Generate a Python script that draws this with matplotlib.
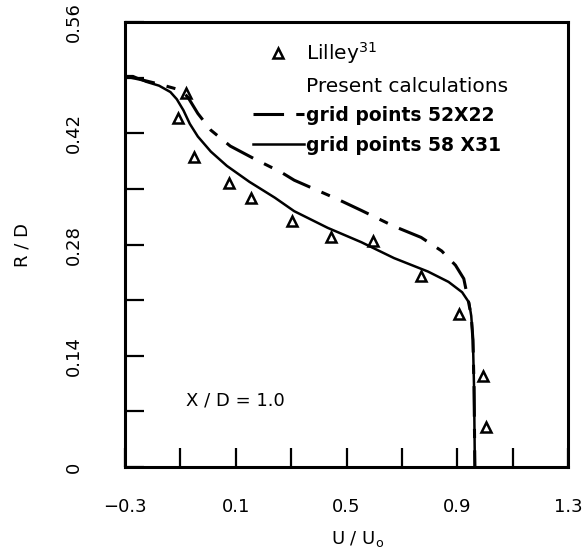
import numpy as np
import matplotlib.pyplot as plt
from matplotlib.lines import Line2D

# Lilley (ref. 31) measurements
u_lilley = [-0.079, -0.107, -0.051, 0.075, 0.155, 0.304, 0.445, 0.596, 0.770, 0.904, 0.993, 1.004]
r_lilley = [0.471, 0.439, 0.390, 0.357, 0.338, 0.310, 0.289, 0.284, 0.241, 0.192, 0.115, 0.050]

# present calculations, grid 52x22
u_coarse = [-0.300, -0.247, -0.177, -0.095, -0.072, -0.037, 0.010, 0.080, 0.172, 0.264, 0.311,
            0.468, 0.553, 0.671, 0.769, 0.843, 0.893, 0.923, 0.936, 0.950, 0.956, 0.960, 0.963]
r_coarse = [0.492, 0.488, 0.482, 0.474, 0.465, 0.445, 0.424, 0.404, 0.387, 0.371, 0.361,
            0.337, 0.323, 0.303, 0.289, 0.272, 0.254, 0.237, 0.215, 0.190, 0.160, 0.100, 0.0]

# present calculations, grid 58x31
u_fine = [-0.300, -0.271, -0.224, -0.177, -0.136, -0.113, -0.089, -0.066, -0.037, 0.010, 0.068,
          0.149, 0.241, 0.311, 0.432, 0.553, 0.671, 0.794, 0.868, 0.917, 0.942, 0.950, 0.956,
          0.960, 0.963]
r_fine = [0.492, 0.492, 0.485, 0.480, 0.472, 0.463, 0.449, 0.432, 0.416, 0.397, 0.379,
          0.359, 0.339, 0.322, 0.301, 0.283, 0.263, 0.246, 0.233, 0.220, 0.207, 0.190, 0.160,
          0.100, 0.0]

xticks = np.round(np.arange(-0.3, 1.31, 0.2), 2)
yticks = np.round(np.arange(0, 0.561, 0.07), 2)

plt.rcParams['font.family'] = 'DejaVu Sans'
fig = plt.figure(figsize=(5.84, 5.53), dpi=100)
ax = fig.add_axes([0.214, 0.1555, 0.759, 0.8045])

dashdot = (0, (10, 4, 3, 4))
ax.plot(u_coarse, r_coarse, color='k', lw=2.2, ls=dashdot)
ax.plot(u_fine, r_fine, color='k', lw=1.8)
ax.plot(u_lilley, r_lilley, ls='none', marker='^', ms=7, mfc='none', mec='k', mew=1.8)

ax.set_xlim(-0.3, 1.3)
ax.set_ylim(0, 0.56)
ax.set_xticks(xticks)
ax.set_yticks(yticks)
ax.set_xticklabels([f'{v:.1f}'.replace('-', '\u2212') if i % 2 == 0 else '' for i, v in enumerate(xticks)])
ax.set_yticklabels(['0' if v == 0 else (f'{v:.2f}' if i % 2 == 0 else '') for i, v in enumerate(yticks)])
ax.tick_params(direction='in', length=14, width=1.6, labelsize=13)
ax.tick_params(axis='x', pad=22)
ax.tick_params(axis='y', pad=30, labelrotation=90)
for lab in ax.get_yticklabels():
    lab.set_va('center')
for s in ax.spines.values():
    s.set_linewidth(2.2)

ax.set_xlabel('U / U$_\\mathregular{o}$', fontsize=13, labelpad=8)
ax.xaxis.set_label_coords(0.524, -0.14)
ax.set_ylabel('R / D', fontsize=13, labelpad=24)

ax.text(-0.079, 0.084, 'X / D = 1.0', fontsize=13, ha='left', va='center')

handles = [Line2D([], [], ls='none', marker='^', ms=7, mfc='none', mec='k', mew=1.8),
           Line2D([], [], ls='none'),
           Line2D([], [], color='k', lw=2.2, ls=dashdot),
           Line2D([], [], color='k', lw=1.8)]
labels = ['Lilley$^{31}$', 'Present calculations', 'grid points 52X22', 'grid points 58 X31']
leg = ax.legend(handles, labels, loc='upper left', bbox_to_anchor=(0.289, 0.960), frameon=False,
                fontsize=14, handlelength=2.6, handletextpad=0.1, labelspacing=0.55,
                borderpad=0, borderaxespad=0)
for t in leg.get_texts()[:2]:
    t.set_fontsize(14.5)
for t in leg.get_texts()[2:]:
    t.set_fontweight('bold')
    t.set_fontsize(13.5)

fig.savefig('out.png', dpi=100)
